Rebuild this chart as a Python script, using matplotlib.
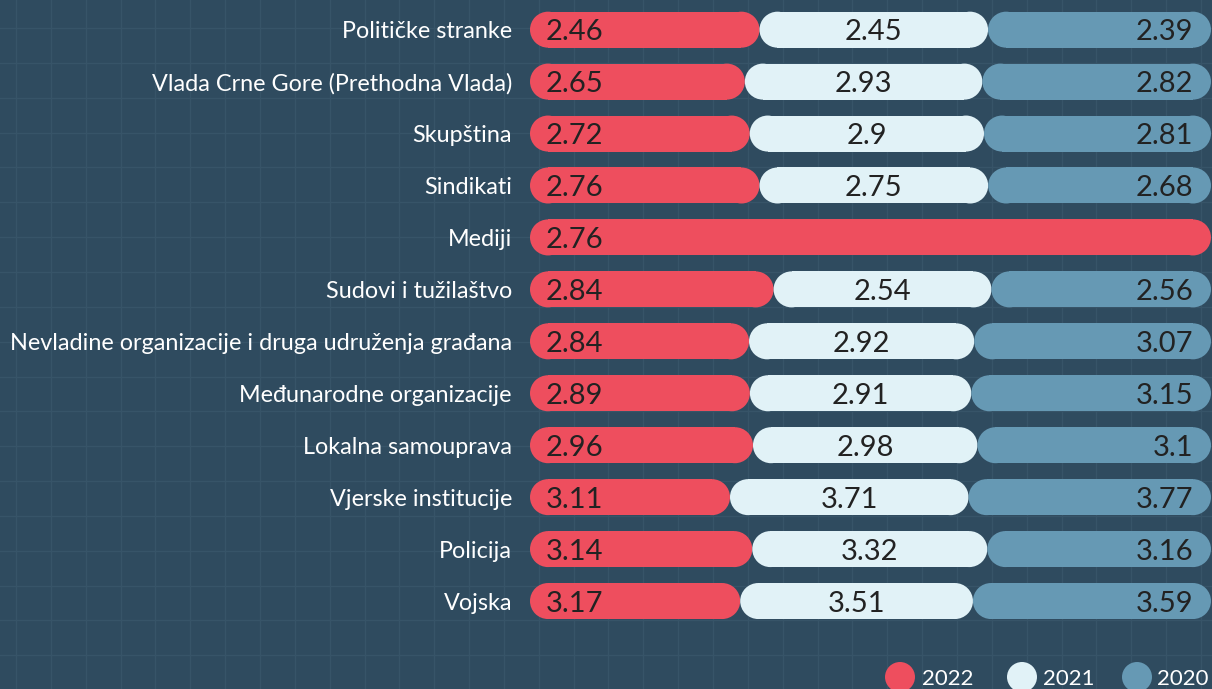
import numpy as np
import matplotlib
matplotlib.use("Agg")
import matplotlib.pyplot as plt
from matplotlib.patches import Ellipse

categories = [
    "Političke stranke",
    "Vlada Crne Gore (Prethodna Vlada)",
    "Skupština",
    "Sindikati",
    "Mediji",
    "Sudovi i tužilaštvo",
    "Nevladine organizacije i druga udruženja građana",
    "Međunarodne organizacije",
    "Lokalna samouprava",
    "Vjerske institucije",
    "Policija",
    "Vojska",
]
v2022 = [2.46, 2.65, 2.72, 2.76, 2.76, 2.84, 2.84, 2.89, 2.96, 3.11, 3.14, 3.17]
v2021 = [2.45, 2.93, 2.9, 2.75, None, 2.54, 2.92, 2.91, 2.98, 3.71, 3.32, 3.51]
v2020 = [2.39, 2.82, 2.81, 2.68, None, 2.56, 3.07, 3.15, 3.1, 3.77, 3.16, 3.59]
series_names = ["2022", "2021", "2020"]
colors = ["#EE4E5E", "#E1F2F7", "#6699B4"]

BG = "#2F4B5F"
GRID = "#375468"
TXT_DARK = "#222222"
FONT = "Lato"

W, H, DPI = 1212, 689, 100
fig = plt.figure(figsize=(W / DPI, H / DPI), dpi=DPI, facecolor=BG)

# background grid
bg = fig.add_axes([0, 0, 1, 1], zorder=-5)
bg.set_xlim(0, W)
bg.set_ylim(H, 0)
bg.set_facecolor(BG)
bg.axis("off")
gs = 34.85
for x in np.arange(16, W, gs):
    bg.axvline(x, color=GRID, lw=1)
for y in np.arange(28, H, gs):
    bg.axhline(y, color=GRID, lw=1)

left_px, right_px = 530, 1211
top_px, bot_px = 3.7, 627.0
ax = fig.add_axes([left_px / W, 1 - bot_px / H, (right_px - left_px) / W, (bot_px - top_px) / H])
ax.set_facecolor("none")
n = len(categories)
ax.set_xlim(0, 1)
ax.set_ylim(n - 0.5, -0.5)
for s in ax.spines.values():
    s.set_visible(False)
ax.set_xticks([])
ax.set_yticks(range(n))
ax.set_yticklabels(categories, color="white", fontsize=16.8, family=FONT)
ax.tick_params(axis="y", length=0, pad=13)

data = np.array([[np.nan if v is None else v for v in s] for s in (v2022, v2021, v2020)], dtype=float)
totals = np.nansum(data, axis=0)
frac = np.nan_to_num(data / totals)
bar_h = 0.693

px_x = (right_px - left_px)          # px per x-unit
px_y = (bot_px - top_px) / n         # px per y-unit
r_x = (bar_h / 2) * px_y / px_x      # radius of the round ends in x-units

lefts = np.zeros(n)
for si in range(3):
    bars = ax.barh(range(n), frac[si], left=lefts, height=bar_h, color=colors[si], lw=0)
    for i, b in enumerate(bars):
        w = b.get_width()
        if w <= 0:
            b.set_visible(False)
            continue
        x0, y0, hh = b.get_x(), b.get_y(), b.get_height()
        yc = y0 + hh / 2
        # turn the bar into a pill: shrink rectangle, add round ends
        b.set_x(x0 + r_x)
        b.set_width(w - 2 * r_x)
        for ex in (x0 + r_x, x0 + w - r_x):
            ax.add_patch(Ellipse((ex, yc), 2 * r_x, hh, fc=colors[si], ec="none", lw=0))
        val = data[si, i]
        label = f"{val:g}"
        kw = dict(va="center_baseline", fontsize=21, color=TXT_DARK, family=FONT, zorder=5)
        if si == 0:
            ax.text(x0 + 16 / px_x, yc, label, ha="left", **kw)
        elif si == 1:
            ax.text(x0 + w / 2, yc, label, ha="center", **kw)
        else:
            ax.text(x0 + w - 18 / px_x, yc, label, ha="right", **kw)
    lefts = lefts + frac[si]

# legend
leg_cx = [900, 1022, 1137]
leg_tx = [922, 1043, 1157]
leg_y = 677
d = 30
for cx, tx, name, c in zip(leg_cx, leg_tx, series_names, colors):
    fig.add_artist(Ellipse((cx / W, 1 - leg_y / H), d / W, d / H,
                           transform=fig.transFigure, fc=c, ec="none"))
    fig.text(tx / W, 1 - leg_y / H, name, ha="left", va="center_baseline",
             fontsize=16, color="white", family=FONT)

fig.savefig("out.png", dpi=DPI, facecolor=BG)
